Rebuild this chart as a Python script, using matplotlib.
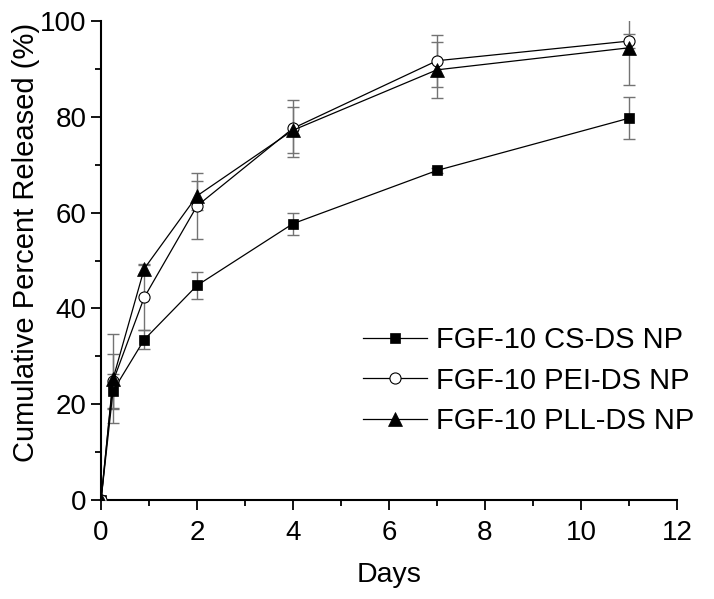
import matplotlib.pyplot as plt
from matplotlib.ticker import MultipleLocator

plt.rcParams["font.family"] = ["Liberation Sans", "DejaVu Sans"]

days = [0, 0.25, 0.9, 2, 4, 7, 11]

cs = [0, 22.8, 33.5, 44.8, 57.7, 68.8, 79.7]
cs_err = [0, 3.5, 2.0, 2.9, 2.3, 0.5, 4.4]

pei = [0, 24.8, 42.3, 61.4, 77.6, 91.7, 95.8]
pei_err = [0, 5.8, 6.7, 6.8, 6.0, 5.4, 1.4]

pll = [0, 25.3, 48.3, 63.5, 77.2, 89.8, 94.4]
pll_err = [0, 9.3, 1.0, 3.0, 4.8, 5.8, 7.8]

labels = ["FGF-10 CS-DS NP", "FGF-10 PEI-DS NP", "FGF-10 PLL-DS NP"]

fig = plt.figure(figsize=(7.14, 5.99), dpi=100)
ax = fig.add_axes([0.1415, 0.165, 0.8065, 0.8])

series = [
    (cs, cs_err, "s", "black", 7.5),
    (pei, pei_err, "o", "white", 8),
    (pll, pll_err, "^", "black", 9.5),
]
for (vals, err, m, fc, ms), lab in zip(series, labels):
    ax.errorbar(days, vals, yerr=err, fmt="none", ecolor="0.45",
                elinewidth=1.0, capsize=4.5, capthick=1.0, zorder=1)
    ax.plot(days, vals, marker=m, color="black", mfc=fc, mec="black",
            ms=ms, lw=0.9, mew=0.8 if m == "o" else 0.5,
            label=lab, zorder=3)

ax.set_xlim(0, 12)
ax.set_ylim(0, 100)
ax.xaxis.set_major_locator(MultipleLocator(2))
ax.xaxis.set_minor_locator(MultipleLocator(1))
ax.yaxis.set_major_locator(MultipleLocator(20))
ax.yaxis.set_minor_locator(MultipleLocator(10))
for s in ("top", "right"):
    ax.spines[s].set_visible(False)
for s in ("left", "bottom"):
    ax.spines[s].set_linewidth(1.5)
ax.tick_params(which="major", direction="out", length=7, width=1.3,
               labelsize=20)
ax.tick_params(axis="x", which="major", pad=7)
ax.tick_params(which="minor", direction="out", length=4, width=1.3)

ax.set_xlabel("Days", fontsize=20.5, labelpad=12)
ax.set_ylabel("Cumulative Percent Released (%)", fontsize=21)
ax.yaxis.set_label_coords(-0.106, 0.537)

ax.legend(loc="upper left", bbox_to_anchor=(0.508, 0.455),
          bbox_transform=fig.transFigure, frameon=False, fontsize=21,
          handlelength=2.2, handletextpad=0.3, labelspacing=0.42,
          borderpad=0, borderaxespad=0)

fig.savefig("out.png", dpi=100)
